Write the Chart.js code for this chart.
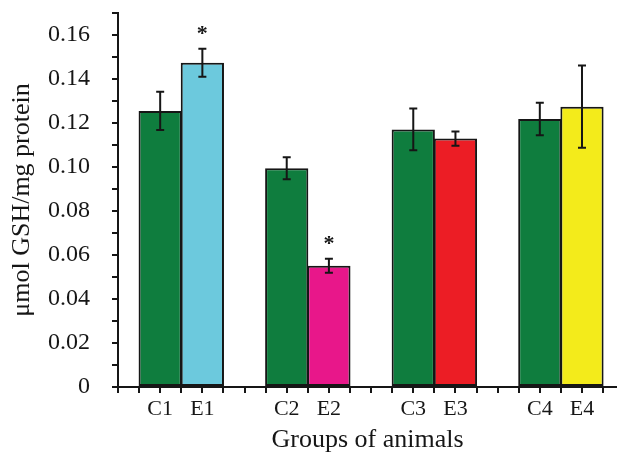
<!DOCTYPE html>
<html>
<head>
<meta charset="utf-8">
<script src="https://cdn.jsdelivr.net/npm/chart.js@4.4.0/dist/chart.umd.min.js"></script>
<style>html,body{margin:0;background:#fff}canvas{display:block}</style>
</head>
<body>
<canvas id="chart" width="617" height="453"></canvas>
<script>
// GSH levels, control vs experimental groups
const controlLabels = ['C1', 'C2', 'C3', 'C4'];
const expLabels = ['E1', 'E2', 'E3', 'E4'];
const controlValues = [0.1255, 0.0994, 0.1171, 0.1218];
const controlErrors = [0.0087, 0.0050, 0.0095, 0.0074];
const expValues = [0.1474, 0.0551, 0.1129, 0.1274];
const expErrors = [0.0064, 0.0032, 0.0032, 0.0187];
const expSignificant = [true, true, false, false];
const expColors = ['#6cc9dd', '#e8178a', '#ec1d25', '#f3eb1b'];
const controlColor = '#0f7d3e';

const FONT = "'Liberation Serif', 'Times New Roman', serif";
const INK = '#161616';

// each group takes 3 slots: control, experimental, gap
const controlData = controlValues.map((v, i) => ({ x: i * 3 + 1, y: v }));
const expData = expValues.map((v, i) => ({ x: i * 3 + 2, y: v }));

const errorBars = {
  id: 'errorBars',
  afterDatasetsDraw(chart) {
    const ctx = chart.ctx, ys = chart.scales.y;
    chart.data.datasets.forEach((ds, di) => {
      chart.getDatasetMeta(di).data.forEach((bar, i) => {
        const v = ds.data[i].y, e = ds.errors[i];
        const top = ys.getPixelForValue(v + e), bot = ys.getPixelForValue(v - e);
        ctx.save();
        ctx.strokeStyle = INK;
        ctx.lineWidth = 2;
        ctx.beginPath();
        ctx.moveTo(bar.x, top); ctx.lineTo(bar.x, bot);
        ctx.moveTo(bar.x - 4, top); ctx.lineTo(bar.x + 4, top);
        ctx.moveTo(bar.x - 4, bot); ctx.lineTo(bar.x + 4, bot);
        ctx.stroke();
        if (ds.significant && ds.significant[i]) {
          ctx.fillStyle = INK;
          ctx.font = 'bold 22px ' + FONT;
          ctx.textAlign = 'center';
          ctx.textBaseline = 'alphabetic';
          ctx.fillText('*', bar.x, top - 9);
        }
        ctx.restore();
      });
    });
  }
};

function xLabel(value) {
  const k = Math.round(value * 2) / 2;
  if (k !== Math.round(k)) return '';
  if ((k - 1) % 3 === 0) return controlLabels[(k - 1) / 3] || '';
  if ((k - 2) % 3 === 0) return expLabels[(k - 2) / 3] || '';
  return '';
}

function yLabel(value) {
  const k = Math.round(value * 100);
  if (k % 2 !== 0 || k > 16) return '';
  return k === 0 ? '0' : (k / 100).toFixed(2);
}

new Chart(document.getElementById('chart').getContext('2d'), {
  type: 'bar',
  data: {
    datasets: [
      { data: controlData, errors: controlErrors, backgroundColor: controlColor },
      { data: expData, errors: expErrors, significant: expSignificant, backgroundColor: expColors }
    ]
  },
  options: {
    responsive: false,
    animation: false,
    layout: { padding: { top: 13, right: 0, left: 0, bottom: 0 } },
    datasets: {
      bar: {
        grouped: false,
        // tick spacing is half a slot, so the bar spans two tick gaps (plus a hair so borders merge)
        barPercentage: 2.05,
        categoryPercentage: 1,
        borderColor: INK,
        borderWidth: 2,
        borderSkipped: false
      }
    },
    plugins: { legend: { display: false }, tooltip: { enabled: false } },
    scales: {
      x: {
        type: 'linear',
        offset: false,
        min: 0,
        max: 11.83,
        afterFit(s) { s.height = 66; s.paddingLeft = 0; s.paddingRight = 0; },
        border: { display: true, color: INK, width: 2 },
        grid: { offset: false, drawOnChartArea: false, drawTicks: true, tickLength: 6, color: INK, lineWidth: 2 },
        ticks: {
          stepSize: 0.5,
          includeBounds: false,
          autoSkip: false,
          maxRotation: 0,
          padding: 3,
          color: INK,
          font: { family: FONT, size: 22 },
          callback: xLabel
        },
        title: {
          display: true,
          text: 'Groups of animals',
          color: INK,
          font: { family: FONT, size: 26, lineHeight: 1.0 },
          padding: 0
        }
      },
      y: {
        min: 0,
        max: 0.17,
        afterFit(s) { s.width = 118; s.paddingTop = 0; s.paddingBottom = 0; },
        border: { display: true, color: INK, width: 2 },
        grid: { drawOnChartArea: false, drawTicks: true, tickLength: 6, color: INK, lineWidth: 2 },
        ticks: {
          stepSize: 0.01,
          autoSkip: false,
          padding: 22,
          color: INK,
          font: { family: FONT, size: 24 },
          callback: yLabel
        },
        title: {
          display: true,
          text: 'μmol GSH/mg protein',
          color: INK,
          font: { family: FONT, size: 26, lineHeight: 1.1 },
          padding: { top: 8, bottom: 0 }
        }
      }
    }
  },
  plugins: [errorBars]
});
</script>
</body>
</html>
